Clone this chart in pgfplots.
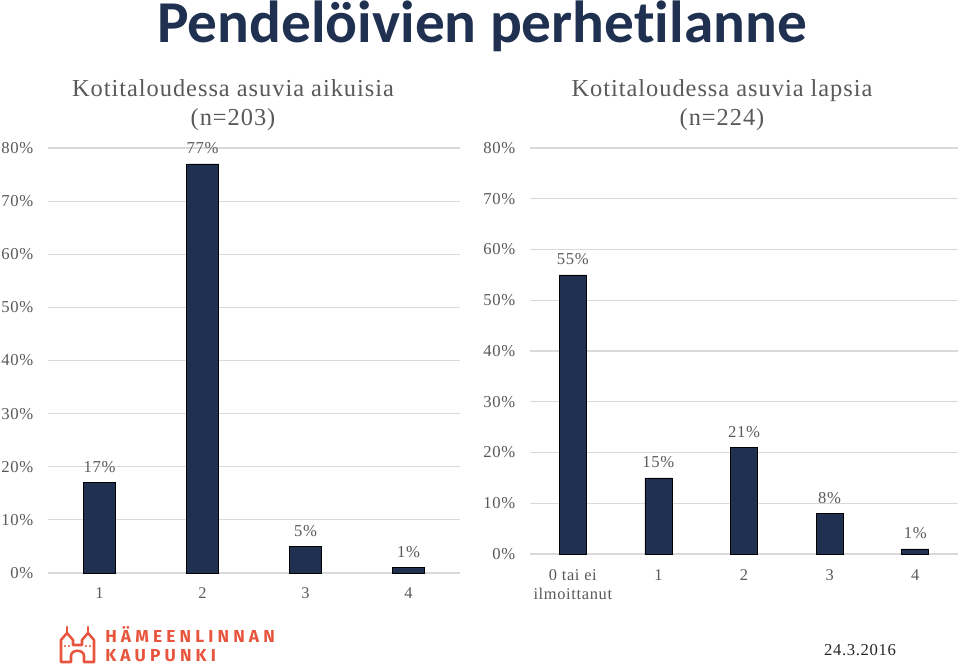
\documentclass[border=0pt]{standalone}
\usepackage{fontspec}
\setmainfont{Liberation Serif}[LetterSpace=4]
\newfontfamily\titlefont{Carlito}[Ligatures=NoCommon]
\newfontfamily\logofont{Fira Sans}[LetterSpace=24]
\usepackage{pgfplots}
\pgfplotsset{compat=1.18}

\definecolor{barblue}{HTML}{1F3050}
\definecolor{txtgray}{HTML}{595959}
\definecolor{gridgray}{HTML}{D9D9D9}
\definecolor{logored}{HTML}{E8553E}

\pgfplotsset{
  panel/.style={
    scale only axis,
    ybar,
    ymin=0, ymax=80,
    ytick={0,10,...,80},
    yticklabel={\pgfmathprintnumber{\tick}\%},
    /pgf/number format/assume math mode=true,
    axis line style={draw=none},
    major tick length=0pt,
    ymajorgrids,
    grid style={gridgray, line width=0.9pt},
    xtick=data,
    yticklabel style={txtgray, font=\fontsize{12.5}{14}\selectfont, xshift=-7.5pt},
    xticklabel style={txtgray, font=\fontsize{12.3}{14}\selectfont, yshift=-7.5pt},
    cycle list={{fill=barblue, draw=none}},
    nodes near coords={\pgfmathprintnumber{\pgfplotspointmeta}\%},
    every node near coord/.append style={txtgray, font=\fontsize{12.5}{14}\selectfont, yshift=4pt},
    clip=false,
  }
}

\begin{document}
\begin{tikzpicture}
\useasboundingbox (0,0) rectangle (720pt,498.75pt);

% vasen: aikuiset
\begin{axis}[panel,
  at={(36pt,69pt)}, anchor=south west,
  width=309pt, height=318.75pt,
  xmin=0.5, xmax=4.5,
  bar width=24pt,
  xticklabels={1,2,3,4},
]
\addplot coordinates {(1,17) (2,77) (3,5) (4,1)};
\end{axis}

% oikea: lapset
\begin{axis}[panel,
  at={(397.5pt,83.25pt)}, anchor=south west,
  width=321pt, height=304.5pt,
  xmin=0.5, xmax=5.5,
  bar width=20.25pt,
  xticklabels={{0 tai ei\\ilmoittanut},1,2,3,4},
  xticklabel style={align=center, yshift=-1pt},
]
\addplot coordinates {(1,55) (2,15) (3,21) (4,8) (5,1)};
\end{axis}

\begin{scope}[x=0.75pt, y=-0.75pt, yshift=498.75pt]
  \node[anchor=base, inner sep=0, font=\titlefont\bfseries\fontsize{44.5}{46}\selectfont, text=barblue] at (482,43) {Pendelöivien perhetilanne};
  \node[align=center, text=txtgray, font=\fontsize{18.3}{21.8}\selectfont] at (233,105.5) {Kotitaloudessa asuvia aikuisia\\(n=203)};
  \node[align=center, text=txtgray, font=\fontsize{18.3}{21.8}\selectfont] at (722,105.5) {Kotitaloudessa asuvia lapsia\\(n=224)};
  \node[text=black!85, font=\fontsize{12.5}{14}\selectfont] at (860,650) {24.3.2016};
  % logo
  \begin{scope}[draw=logored, line width=1.9pt, line join=round, line cap=round]
    \draw (61,662) -- (61,640) -- (67,633) -- (73,640) -- (73,645) -- (82,645) -- (82,640) -- (88,633) -- (94,640) -- (94,662) -- (84,662) -- (84,656) .. controls (84,649) and (71,649) .. (71,656) -- (71,662) -- cycle;
    \draw (67,633) -- (67,627); \draw (88,633) -- (88,627);
  \end{scope}
  \fill[logored] (65,646) circle (1.2) (69,646) circle (1.2) (86,646) circle (1.2) (90,646) circle (1.2);
  \node[anchor=base west, inner sep=0, text=logored, font=\logofont\bfseries\fontsize{13}{14}\selectfont] at (105,642) {HÄMEENLINNAN};
  \node[anchor=base west, inner sep=0, text=logored, font=\logofont\bfseries\fontsize{13}{14}\selectfont] at (105,661) {KAUPUNKI};
\end{scope}
\end{tikzpicture}
\end{document}
